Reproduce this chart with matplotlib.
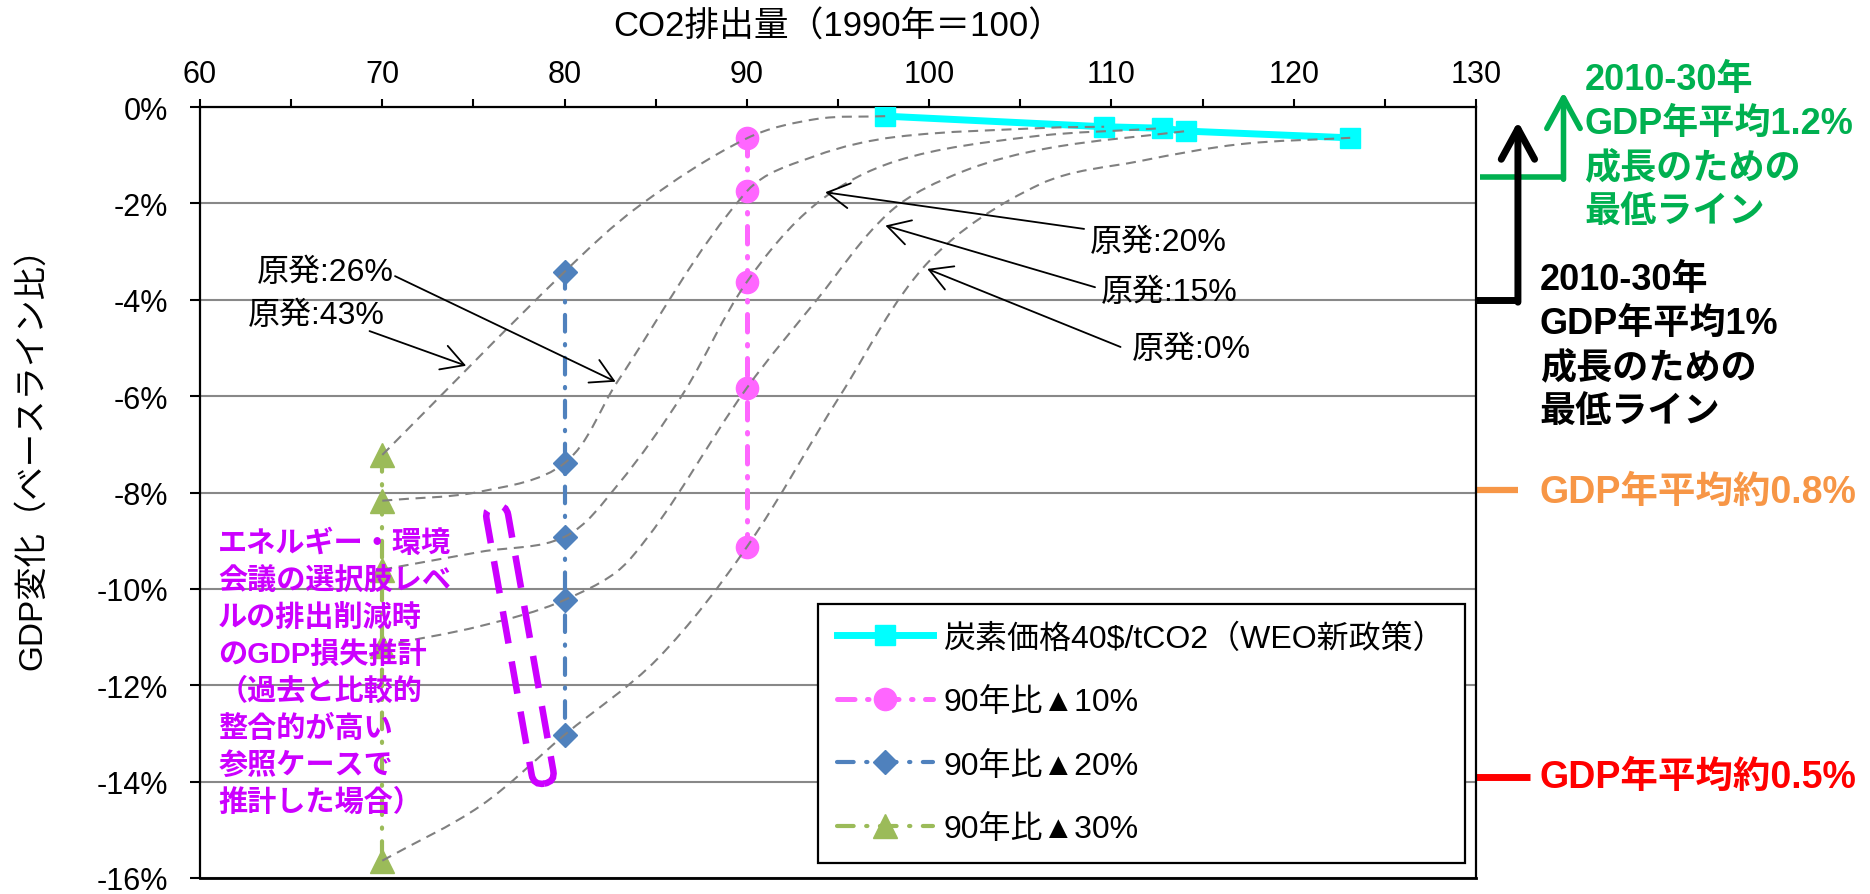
import numpy as np
import matplotlib
matplotlib.use("Agg")
import matplotlib.pyplot as plt
import matplotlib.transforms as mtransforms
from matplotlib.path import Path
from matplotlib.patches import PathPatch, FancyBboxPatch

plt.rcParams['font.family'] = ['Liberation Sans', 'Noto Sans CJK JP']

# ---------------- Data ---------------- #
# carbon price 40$/tCO2 case
carbon_x = [97.6, 109.6, 112.8, 114.1, 123.1]
carbon_y = [-0.19, -0.41, -0.44, -0.50, -0.64]

# emission cuts vs 1990
cut10_x = [90, 90, 90, 90, 90]
cut10_y = [-0.65, -1.75, -3.63, -5.83, -9.13]
cut20_x = [80, 80, 80, 80, 80]
cut20_y = [-3.42, -7.39, -8.92, -10.23, -13.03]
cut30_x = [70, 70, 70, 70, 70]
cut30_y = [-7.22, -8.17, -9.60, -11.18, -15.64]

series_labels = ['炭素価格40\\$/tCO2（WEO新政策）', '90年比▲10%', '90年比▲20%', '90年比▲30%']

# nuclear share scenarios, points along each curve
nuc43_x = [70, 80, 84.1, 90, 93.8, 97.6]
nuc43_y = [-7.22, -3.42, -2.05, -0.65, -0.25, -0.19]
nuc26_x = [70, 75.4, 80, 82.9, 90, 93.8, 98.2, 106.6, 109.6]
nuc26_y = [-8.17, -7.98, -7.39, -5.70, -1.75, -1.01, -0.62, -0.43, -0.41]
nuc20_x = [70, 75.4, 80, 82.9, 86.5, 90, 93.8, 98.2, 105.5, 112.8]
nuc20_y = [-9.60, -9.23, -8.92, -7.85, -5.95, -3.63, -2.01, -1.12, -0.62, -0.44]
nuc15_x = [70, 75.4, 80, 83.6, 90, 93.8, 97.9, 101.9, 106.6, 114.1]
nuc15_y = [-11.18, -10.77, -10.23, -9.38, -5.83, -4.02, -2.16, -1.33, -0.85, -0.50]
nuc0_x = [70, 75.4, 80, 85.1, 90, 95.1, 100, 106.1, 111.6, 117.1, 123.1]
nuc0_y = [-15.64, -14.5, -13.03, -11.45, -9.13, -6.0, -3.2, -1.6, -1.12, -0.77, -0.64]

xticks = [60, 70, 80, 90, 100, 110, 120, 130]
yticks = [0, -2, -4, -6, -8, -10, -12, -14, -16]
ytick_labels = ['0%', '-2%', '-4%', '-6%', '-8%', '-10%', '-12%', '-14%', '-16%']

PINK = '#FF66FF'
BLUE = '#4F81BD'
OLIVE = '#9BBB59'
CYAN = '#00FFFF'
GREY = '#808080'
MAGENTA = '#CC00FF'


def smooth_path(ax, xs, ys):
    # cubic bezier through the points, tangents taken in screen space
    pts = ax.transData.transform(np.column_stack([xs, ys]))
    n = len(pts)
    verts = [pts[0]]
    codes = [Path.MOVETO]
    for i in range(n - 1):
        p0, p1 = pts[i], pts[i + 1]
        seg = np.linalg.norm(p1 - p0)
        prev = pts[i - 1] if i > 0 else p0
        nxt = pts[i + 2] if i + 2 < n else p1
        d0 = p1 - prev
        d1 = nxt - p0
        c1 = p0 + d0 / np.linalg.norm(d0) * seg / 3
        c2 = p1 - d1 / np.linalg.norm(d1) * seg / 3
        verts += [c1, c2, p1]
        codes += [Path.CURVE4] * 3
    verts = ax.transData.inverted().transform(np.array(verts))
    return Path(verts, codes)


fig = plt.figure(figsize=(18.7, 8.95), dpi=100)
ax = fig.add_axes([200 / 1870, 16 / 895, 1276 / 1870, 771 / 895])
ax.set_xlim(60, 130)
ax.set_ylim(-16, 0)

# ---------------- Axes styling ---------------- #
ax.xaxis.tick_top()
ax.xaxis.set_label_position('top')
ax.set_xticks(xticks)
ax.set_xticks(np.arange(65, 130, 10), minor=True)
ax.set_yticks(yticks)
ax.set_yticklabels(ytick_labels)
ax.tick_params(axis='x', which='both', direction='out', length=6, width=1.5,
               labelsize=22, pad=7)
ax.tick_params(axis='y', direction='out', length=7, width=1.5, labelsize=22, pad=16)
for s in ax.spines.values():
    s.set_linewidth(1.6)
    s.set_color('black')
ax.spines['bottom'].set_linewidth(2)
ax.yaxis.grid(True, color='#888888', lw=1.5)
ax.set_axisbelow(True)
ax.set_xlabel('CO2排出量（1990年＝100）', fontsize=25, labelpad=17)
fig.text(32 / 1870, 1 - 450 / 895, 'GDP変化（ベースライン比）', rotation=90,
         ha='center', va='center', fontsize=24)

# ---------------- Series ---------------- #
ax.plot(carbon_x, carbon_y, color=CYAN, lw=5, marker='s', ms=15, mec=CYAN,
        label=series_labels[0], zorder=3)
ax.plot(cut10_x, cut10_y, color=PINK, lw=3.6, ls=(0, (3.5, 2.5, 0.3, 2.5)),
        dash_capstyle='round', marker='o', ms=16, mec=PINK,
        label=series_labels[1], zorder=3)
ax.plot(cut20_x, cut20_y, color=BLUE, lw=3, ls=(0, (4, 3, 0.3, 3)),
        dash_capstyle='round', marker='D', ms=12.5, mec=BLUE,
        label=series_labels[2], zorder=3)
ax.plot(cut30_x, cut30_y, color=OLIVE, lw=3, ls=(0, (4, 3, 0.3, 3)),
        dash_capstyle='round', marker='^', ms=17, mec=OLIVE,
        label=series_labels[3], zorder=3)

# nuclear share curves
for xs, ys in [(nuc43_x, nuc43_y), (nuc26_x, nuc26_y), (nuc20_x, nuc20_y),
               (nuc15_x, nuc15_y), (nuc0_x, nuc0_y)]:
    ax.add_patch(PathPatch(smooth_path(ax, xs, ys), fill=False, edgecolor=GREY,
                           lw=1.5, ls=(0, (4.8, 3.2)), zorder=4))

# labels with arrows pointing at the curves
arrow_kw = dict(arrowstyle='->,head_length=0.8,head_width=0.45', color='black',
                lw=1.3, shrinkA=0, shrinkB=0, mutation_scale=20)
ax.text(63.1, -3.42, '原発:26%', fontsize=23, va='center', ha='left', zorder=6)
ax.annotate('', xy=(82.8, -5.70), xytext=(70.7, -3.51), arrowprops=arrow_kw, zorder=6)
ax.text(62.6, -4.32, '原発:43%', fontsize=23, va='center', ha='left', zorder=6)
ax.annotate('', xy=(74.6, -5.37), xytext=(69.3, -4.65), arrowprops=arrow_kw, zorder=6)
ax.text(108.8, -2.80, '原発:20%', fontsize=23, va='center', ha='left', zorder=6)
ax.annotate('', xy=(94.3, -1.77), xytext=(108.5, -2.53), arrowprops=arrow_kw, zorder=6)
ax.text(109.4, -3.84, '原発:15%', fontsize=23, va='center', ha='left', zorder=6)
ax.annotate('', xy=(97.6, -2.46), xytext=(109.1, -3.74), arrowprops=arrow_kw, zorder=6)
ax.text(111.1, -5.02, '原発:0%', fontsize=23, va='center', ha='left', zorder=6)
ax.annotate('', xy=(99.9, -3.36), xytext=(110.5, -4.98), arrowprops=arrow_kw, zorder=6)

# note on the energy/environment council options
ax.text(61.0, -8.75,
        'エネルギー・環境\n会議の選択肢レベ\nルの排出削減時\nのGDP損失推計\n（過去と比較的\n'
        '整合的が高い\n参照ケースで\n推計した場合）',
        color=MAGENTA, fontsize=21, fontweight='bold', va='top', ha='left',
        linespacing=1.4, zorder=6)
loop_trans = (mtransforms.Affine2D().rotate_deg(10) + fig.dpi_scale_trans
              + mtransforms.ScaledTranslation(77.55, -11.16, ax.transData))
ax.add_patch(FancyBboxPatch((-0.11, -1.41), 0.22, 2.82,
                            boxstyle='round,pad=0,rounding_size=0.11',
                            fill=False, edgecolor=MAGENTA, lw=4.7,
                            ls=(0, (5, 2.8)), transform=loop_trans, zorder=6,
                            clip_on=False))

# ---------------- Legend ---------------- #
leg = ax.legend(loc='lower right', bbox_to_anchor=(0.991, 0.019), borderaxespad=0,
                fontsize=23, handlelength=3.0, handletextpad=0.35, labelspacing=1.05,
                borderpad=0.6, fancybox=False, framealpha=1, edgecolor='black')
leg.get_frame().set_linewidth(1.6)

# ---------------- Growth lines outside the plot ---------------- #
ax.plot([130, 132.3], [-4.0, -4.0], color='black', lw=5, clip_on=False,
        solid_capstyle='butt')
ax.annotate('', xy=(132.3, -0.3), xytext=(132.3, -4.05),
            arrowprops=dict(arrowstyle='->,head_length=1.1,head_width=0.6', color='black',
                            lw=5, shrinkA=0, shrinkB=0, mutation_scale=20),
            annotation_clip=False)
ax.plot([130.2, 134.8], [-1.45, -1.45], color='#00B050', lw=4, clip_on=False,
        solid_capstyle='butt')
ax.annotate('', xy=(134.8, 0.31), xytext=(134.8, -1.5),
            arrowprops=dict(arrowstyle='->,head_length=1.1,head_width=0.6', color='#00B050',
                            lw=4, shrinkA=0, shrinkB=0, mutation_scale=20),
            annotation_clip=False)
ax.plot([130, 132.3], [-7.95, -7.95], color='#F79646', lw=4.5, clip_on=False,
        solid_capstyle='butt')
ax.plot([130, 132.95], [-13.9, -13.9], color='#FF0000', lw=5, clip_on=False,
        solid_capstyle='butt')

ax.text(135.95, 0.93, '2010-30年\nGDP年平均1.2%\n成長のための\n最低ライン',
        color='#00B050', fontsize=26, fontweight='bold', va='top', ha='left',
        linespacing=1.33)
ax.text(133.5, -3.22, '2010-30年\nGDP年平均1%\n成長のための\n最低ライン',
        color='black', fontsize=26, fontweight='bold', va='top', ha='left',
        linespacing=1.33)
ax.text(133.5, -7.99, 'GDP年平均約0.8%', color='#F79646', fontsize=27,
        fontweight='bold', va='center', ha='left')
ax.text(133.5, -13.9, 'GDP年平均約0.5%', color='#FF0000', fontsize=27,
        fontweight='bold', va='center', ha='left')

fig.savefig('out.png', dpi=100)
